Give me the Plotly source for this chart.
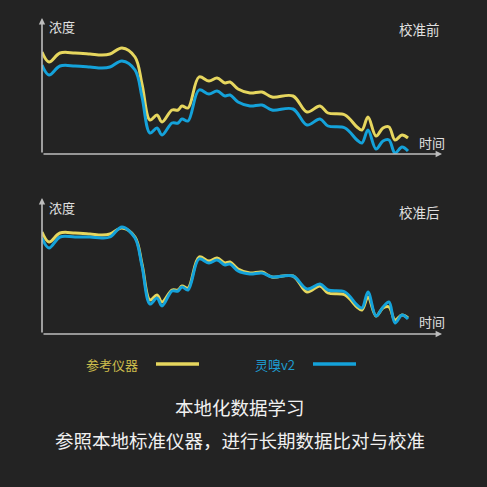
import plotly.graph_objects as go

# time positions (arbitrary units along the time axis, 0..100)
t = [0, 1.75, 4.5, 8.25, 12, 15, 17, 20, 23.25, 25, 27, 28.75, 30, 32.5, 34, 35, 36.5,
     39.25, 41.75, 43.75, 45.75, 47, 49, 52, 55, 57.5, 62.75, 66.25, 69.5, 71.5, 75.75,
     78.75, 80, 81.5, 83.5, 85.25, 86.75, 88.25, 90, 91.5]

# reference instrument (参考仪器)
ref = [102, 92, 101, 101, 100, 99, 100, 106, 97, 70, 34, 39, 32, 44, 44, 48, 46,
       77, 73, 76, 71, 72, 65, 61, 62, 57, 58, 42, 48, 41, 39,
       27, 24, 37, 18, 26, 27, 14, 19, 16]

# 灵嗅v2 before calibration
before = [89, 79, 88, 88, 87, 86, 87, 93, 84, 57, 21, 26, 19, 31, 31, 35, 33,
          64, 60, 63, 58, 59, 52, 48, 49, 44, 45, 29, 35, 28, 26,
          14, 11, 24, 5, 13, 14, 1, 7, 3]

# 灵嗅v2 after calibration
after = [96, 86, 97, 97, 97, 96, 97, 107, 96, 68, 30, 36, 28, 43, 43, 47, 44,
         75, 71, 74, 69, 70, 63, 60, 61, 57, 58, 45, 50, 44, 42,
         29, 26, 42, 18, 27, 32, 11, 19, 15]

YELLOW = "#E6D65E"
BLUE = "#14A2DA"
BG = "#232323"
AXIS = "#bdbdbd"
FONT = "Noto Sans CJK SC"
W = H = 487

def px(x):
    return x / W

def py(y):
    return 1 - y / H

fig = go.Figure()

line_kw = dict(shape="spline", smoothing=1.0, width=3)

# top chart (before)
fig.add_trace(go.Scatter(x=t, y=ref, mode="lines", line=dict(color=YELLOW, **line_kw),
                         xaxis="x", yaxis="y", showlegend=False, hoverinfo="skip"))
fig.add_trace(go.Scatter(x=t, y=before, mode="lines", line=dict(color=BLUE, **line_kw),
                         xaxis="x", yaxis="y", showlegend=False, hoverinfo="skip"))
# bottom chart (after)
fig.add_trace(go.Scatter(x=t, y=ref, mode="lines", line=dict(color=YELLOW, **line_kw),
                         xaxis="x2", yaxis="y2", showlegend=False, hoverinfo="skip"))
fig.add_trace(go.Scatter(x=t, y=after, mode="lines", line=dict(color=BLUE, **line_kw),
                         xaxis="x2", yaxis="y2", showlegend=False, hoverinfo="skip"))

xdom = [px(42), px(442)]
ax_common = dict(visible=False, showgrid=False, zeroline=False, fixedrange=True)

fig.update_layout(
    width=W, height=H,
    margin=dict(l=0, r=0, t=0, b=0),
    paper_bgcolor=BG, plot_bgcolor=BG,
    font=dict(family=FONT, color="#e6e6e6"),
    xaxis=dict(domain=xdom, range=[0, 100], anchor="y", **ax_common),
    yaxis=dict(domain=[py(154), py(18)], range=[0, 136], anchor="x", **ax_common),
    xaxis2=dict(domain=xdom, range=[0, 100], anchor="y2", **ax_common),
    yaxis2=dict(domain=[py(334), py(198)], range=[0, 136], anchor="x2", **ax_common),
)

annotations = []
# axis arrows
for xr, yr in (("x", "y"), ("x2", "y2")):
    annotations.append(dict(x=100, y=0, ax=0, ay=0, xref=xr, yref=yr, axref=xr, ayref=yr,
                            text="", showarrow=True, arrowhead=2, arrowsize=0.8,
                            arrowwidth=1.6, arrowcolor=AXIS))
    annotations.append(dict(x=0, y=136, ax=0, ay=0, xref=xr, yref=yr, axref=xr, ayref=yr,
                            text="", showarrow=True, arrowhead=2, arrowsize=0.8,
                            arrowwidth=1.6, arrowcolor=AXIS))

def label(text, x, y, size, color="#e0e0e0", xanchor="left"):
    annotations.append(dict(text=text, x=px(x), y=py(y), xref="paper", yref="paper",
                            xanchor=xanchor, yanchor="middle", showarrow=False,
                            font=dict(size=size, color=color, family=FONT)))

label("浓度", 47, 27, 13)
label("校准前", 442, 29, 13.5, xanchor="right")
label("时间", 417, 142, 13)
label("浓度", 47, 207, 13)
label("校准后", 442, 212, 13.5, xanchor="right")
label("时间", 417, 321, 13)

label("参考仪器", 140, 364, 13, color="#CDBD4C", xanchor="right")
label("灵嗅v2", 297, 364, 13, color="#1E9BCF", xanchor="right")

label("本地化数据学习", 240, 407, 18.5, color="#f0f0f0", xanchor="center")
label("参照本地标准仪器，进行长期数据比对与校准", 240, 440, 18.5, color="#f0f0f0", xanchor="center")

fig.update_layout(annotations=annotations)

shapes = [
    dict(type="line", xref="paper", yref="paper", x0=px(156), x1=px(199), y0=py(364), y1=py(364),
         line=dict(color=YELLOW, width=3.5)),
    dict(type="line", xref="paper", yref="paper", x0=px(313), x1=px(356), y0=py(364), y1=py(364),
         line=dict(color=BLUE, width=3.5)),
]
fig.update_layout(shapes=shapes)

fig.write_html("out.html")
